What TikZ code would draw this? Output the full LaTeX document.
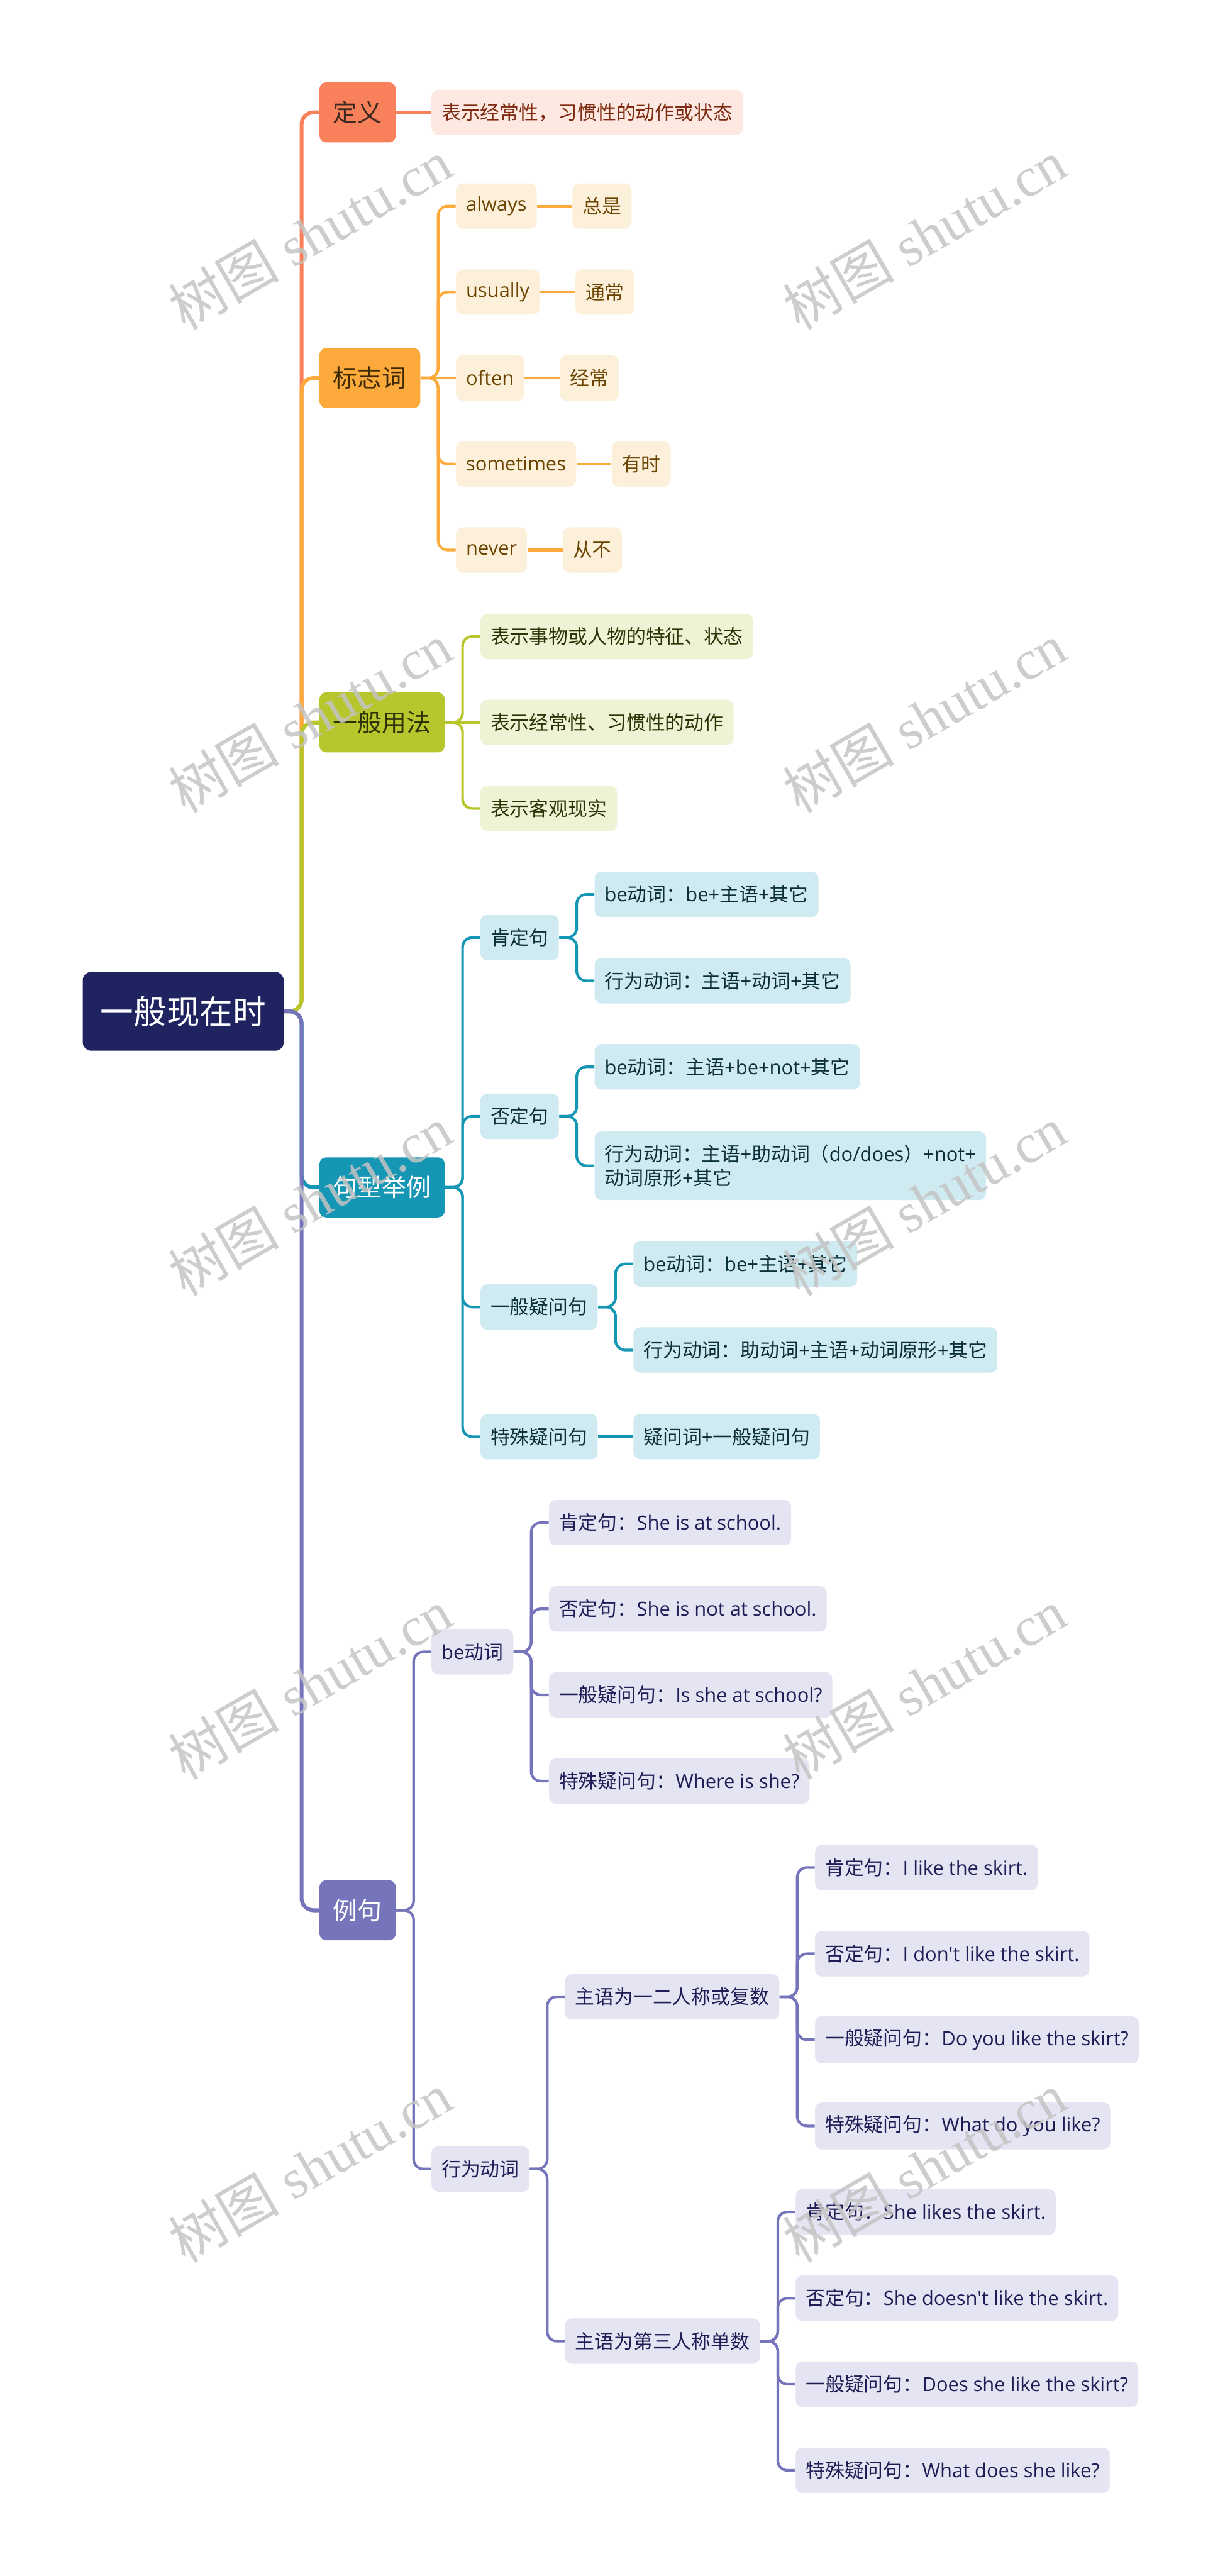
\documentclass[tikz,border=0pt]{standalone}
\usepackage{fontspec}
\setmainfont{Open Sans}[Ligatures=TeXOff]
\newfontfamily\cjkfont{Noto Sans CJK SC}
\newfontfamily\wmfont{Liberation Serif}
% Chinese runs are set in Noto Sans CJK, everything else in Open Sans
\XeTeXinterchartokenstate=1
\newXeTeXintercharclass\cjkclass
\newcount\cjkcode
\cjkcode="3000
\loop \XeTeXcharclass\cjkcode=\cjkclass \advance\cjkcode by 1 \ifnum\cjkcode<"3040 \repeat
\cjkcode="4E00
\loop \XeTeXcharclass\cjkcode=\cjkclass \advance\cjkcode by 1 \ifnum\cjkcode<"A000 \repeat
\cjkcode="FF00
\loop \XeTeXcharclass\cjkcode=\cjkclass \advance\cjkcode by 1 \ifnum\cjkcode<"FFF0 \repeat
\XeTeXinterchartoks 0 \cjkclass = {\begingroup\cjkfont}
\XeTeXinterchartoks 4095 \cjkclass = {\begingroup\cjkfont}
\XeTeXinterchartoks \cjkclass 0 = {\endgroup}
\XeTeXinterchartoks \cjkclass 4095 = {\endgroup}
\usepackage{tikz}
\usetikzlibrary{positioning}
\definecolor{rootc}{HTML}{1F2461}
\definecolor{defc}{HTML}{F8805A}
\definecolor{defl}{HTML}{FDE9E1}
\definecolor{defdark}{HTML}{7F2B12}
\definecolor{deftext}{HTML}{3A2A20}
\definecolor{sigc}{HTML}{FBAA3B}
\definecolor{sigl}{HTML}{FDF0DB}
\definecolor{sigdark}{HTML}{6B4400}
\definecolor{sigtext}{HTML}{3F2A05}
\definecolor{usec}{HTML}{B6C62C}
\definecolor{usel}{HTML}{EFF3D6}
\definecolor{usedark}{HTML}{2E3305}
\definecolor{patc}{HTML}{1496B4}
\definecolor{patl}{HTML}{CFEAF1}
\definecolor{patdark}{HTML}{0B2F38}
\definecolor{exc}{HTML}{7675BC}
\definecolor{exl}{HTML}{E5E4F2}
\definecolor{exdark}{HTML}{201D56}
\definecolor{wmgray}{HTML}{C4C4C4}
\tikzset{
  rootbox/.style={rectangle,rounded corners=5pt,fill=rootc,text=white,
    minimum height=1.64cm,inner xsep=0.37cm,
    font=\fontsize{19.6pt}{23pt}\selectfont},
  topbox/.style={rectangle,rounded corners=4pt,minimum height=1.25cm,
    inner xsep=0.285cm,font=\fontsize{14.5pt}{17pt}\selectfont},
  subbox/.style={rectangle,rounded corners=4pt,minimum height=0.945cm,
    inner xsep=0.21cm,inner ysep=0.27cm,align=left,
    font=\fontsize{11.5pt}{14.4pt}\selectfont},
  defbox/.style={topbox,fill=defc,text=deftext},
  defsub/.style={subbox,fill=defl,text=defdark},
  sigbox/.style={topbox,fill=sigc,text=sigtext},
  sigsub/.style={subbox,fill=sigl,text=sigdark},
  usebox/.style={topbox,fill=usec,text=usedark},
  usesub/.style={subbox,fill=usel,text=usedark},
  patbox/.style={topbox,fill=patc,text=white},
  patsub/.style={subbox,fill=patl,text=patdark},
  exbox/.style={topbox,fill=exc,text=white},
  exsub/.style={subbox,fill=exl,text=exdark},
  trunk/.style={line width=0.08cm,rounded corners=0.25cm},
  twig/.style={line width=0.055cm,rounded corners=0.2cm},
  wmark/.style={rotate=30,text=wmgray,text opacity=0.85,
    font=\wmfont\fontsize{33pt}{36pt}\selectfont},
}

\begin{document}
\begin{tikzpicture}
  \useasboundingbox (0,0) rectangle (25.6,-53.63);
  \node[rootbox] (root) at (3.815,-21.055) {一般现在时};

  % first level
  \node[defbox, right=7.3mm of root, yshift=18.715cm]  (def) {定义};
  \node[sigbox, right=7.3mm of root, yshift=13.185cm]  (sig) {标志词};
  \node[usebox, right=7.3mm of root, yshift=6.015cm]   (use) {一般用法};
  \node[patbox, right=7.3mm of root, yshift=-3.665cm]  (pat) {句型举例};
  \node[exbox,  right=7.3mm of root, yshift=-18.715cm] (ex)  {例句};

  % definition
  \node[defsub, right=7.3mm of def] (def1) {表示经常性，习惯性的动作或状态};

  % signal words
  \node[sigsub, right=7.3mm of sig, yshift=3.58cm]  (sig1) {always};
  \node[sigsub, right=7.3mm of sig, yshift=1.79cm]  (sig2) {usually};
  \node[sigsub, right=7.3mm of sig]                 (sig3) {often};
  \node[sigsub, right=7.3mm of sig, yshift=-1.79cm] (sig4) {sometimes};
  \node[sigsub, right=7.3mm of sig, yshift=-3.58cm] (sig5) {never};
  \node[sigsub, right=7.3mm of sig1] (sig1a) {总是};
  \node[sigsub, right=7.3mm of sig2] (sig2a) {通常};
  \node[sigsub, right=7.3mm of sig3] (sig3a) {经常};
  \node[sigsub, right=7.3mm of sig4] (sig4a) {有时};
  \node[sigsub, right=7.3mm of sig5] (sig5a) {从不};

  % usage
  \node[usesub, right=7.3mm of use, yshift=1.79cm]  (use1) {表示事物或人物的特征、状态};
  \node[usesub, right=7.3mm of use]                 (use2) {表示经常性、习惯性的动作};
  \node[usesub, right=7.3mm of use, yshift=-1.79cm] (use3) {表示客观现实};

  % sentence patterns
  \node[patsub, right=7.3mm of pat, yshift=5.20cm]  (patA) {肯定句};
  \node[patsub, right=7.3mm of pat, yshift=1.48cm]  (patB) {否定句};
  \node[patsub, right=7.3mm of pat, yshift=-2.49cm] (patC) {一般疑问句};
  \node[patsub, right=7.3mm of pat, yshift=-5.19cm] (patD) {特殊疑问句};
  \node[patsub, right=7.3mm of patA, yshift=0.90cm]   (patA1) {be动词：be+主语+其它};
  \node[patsub, right=7.3mm of patA, yshift=-0.90cm]  (patA2) {行为动词：主语+动词+其它};
  \node[patsub, right=7.3mm of patB, yshift=1.03cm]   (patB1) {be动词：主语+be+not+其它};
  \node[patsub, right=7.3mm of patB, yshift=-1.03cm]  (patB2) {行为动词：主语+助动词（do/does）+not+\\动词原形+其它};
  \node[patsub, right=7.3mm of patC, yshift=0.895cm]  (patC1) {be动词：be+主语+其它};
  \node[patsub, right=7.3mm of patC, yshift=-0.895cm] (patC2) {行为动词：助动词+主语+动词原形+其它};
  \node[patsub, right=7.3mm of patD]                  (patD1) {疑问词+一般疑问句};

  % examples
  \node[exsub, right=7.3mm of ex, yshift=5.38cm]   (exA) {be动词};
  \node[exsub, right=7.3mm of ex, yshift=-5.385cm] (exB) {行为动词};
  \node[exsub, right=7.3mm of exA, yshift=2.69cm]   (exA1) {肯定句：She is at school.};
  \node[exsub, right=7.3mm of exA, yshift=0.895cm]  (exA2) {否定句：She is not at school.};
  \node[exsub, right=7.3mm of exA, yshift=-0.895cm] (exA3) {一般疑问句：Is she at school?};
  \node[exsub, right=7.3mm of exA, yshift=-2.69cm]  (exA4) {特殊疑问句：Where is she?};
  \node[exsub, right=7.3mm of exB, yshift=3.585cm]  (exB1) {主语为一二人称或复数};
  \node[exsub, right=7.3mm of exB, yshift=-3.585cm] (exB2) {主语为第三人称单数};
  \node[exsub, right=7.3mm of exB1, yshift=2.69cm]   (exB11) {肯定句：I like the skirt.};
  \node[exsub, right=7.3mm of exB1, yshift=0.895cm]  (exB12) {否定句：I don't like the skirt.};
  \node[exsub, right=7.3mm of exB1, yshift=-0.895cm] (exB13) {一般疑问句：Do you like the skirt?};
  \node[exsub, right=7.3mm of exB1, yshift=-2.69cm]  (exB14) {特殊疑问句：What do you like?};
  \node[exsub, right=7.3mm of exB2, yshift=2.69cm]   (exB21) {肯定句：She likes the skirt.};
  \node[exsub, right=7.3mm of exB2, yshift=0.895cm]  (exB22) {否定句：She doesn't like the skirt.};
  \node[exsub, right=7.3mm of exB2, yshift=-0.895cm] (exB23) {一般疑问句：Does she like the skirt?};
  \node[exsub, right=7.3mm of exB2, yshift=-2.69cm]  (exB24) {特殊疑问句：What does she like?};

  % main branches
  \draw[trunk,draw=defc] (def.west) -| ([xshift=3.65mm]root.east) [sharp corners] -- (root.east);
  \draw[trunk,draw=sigc] (sig.west) -| ([xshift=3.65mm]root.east) [sharp corners] -- (root.east);
  \draw[trunk,draw=usec] (use.west) -| ([xshift=3.65mm]root.east) [sharp corners] -- (root.east);
  \draw[trunk,draw=patc] (pat.west) -| ([xshift=3.65mm]root.east) [sharp corners] -- (root.east);
  \draw[trunk,draw=exc]  (ex.west)  -| ([xshift=3.65mm]root.east) [sharp corners] -- (root.east);

  % second level links
  \draw[twig,draw=defc] (def.east) -- (def1.west);
  \draw[twig,draw=sigc] (sig1.west) -| ([xshift=3.65mm]sig.east) [sharp corners] -- (sig.east);
  \draw[twig,draw=sigc] (sig2.west) -| ([xshift=3.65mm]sig.east) [sharp corners] -- (sig.east);
  \draw[twig,draw=sigc] (sig3.west) -- (sig.east);
  \draw[twig,draw=sigc] (sig4.west) -| ([xshift=3.65mm]sig.east) [sharp corners] -- (sig.east);
  \draw[twig,draw=sigc] (sig5.west) -| ([xshift=3.65mm]sig.east) [sharp corners] -- (sig.east);
  \draw[twig,draw=sigc] (sig1) -- (sig1a);
  \draw[twig,draw=sigc] (sig2) -- (sig2a);
  \draw[twig,draw=sigc] (sig3) -- (sig3a);
  \draw[twig,draw=sigc] (sig4) -- (sig4a);
  \draw[twig,draw=sigc] (sig5) -- (sig5a);
  \draw[twig,draw=usec] (use1.west) -| ([xshift=3.65mm]use.east) [sharp corners] -- (use.east);
  \draw[twig,draw=usec] (use2.west) -- (use.east);
  \draw[twig,draw=usec] (use3.west) -| ([xshift=3.65mm]use.east) [sharp corners] -- (use.east);
  \draw[twig,draw=patc] (patA.west) -| ([xshift=3.65mm]pat.east) [sharp corners] -- (pat.east);
  \draw[twig,draw=patc] (patB.west) -| ([xshift=3.65mm]pat.east) [sharp corners] -- (pat.east);
  \draw[twig,draw=patc] (patC.west) -| ([xshift=3.65mm]pat.east) [sharp corners] -- (pat.east);
  \draw[twig,draw=patc] (patD.west) -| ([xshift=3.65mm]pat.east) [sharp corners] -- (pat.east);
  \draw[twig,draw=patc] (patA1.west) -| ([xshift=3.65mm]patA.east) [sharp corners] -- (patA.east);
  \draw[twig,draw=patc] (patA2.west) -| ([xshift=3.65mm]patA.east) [sharp corners] -- (patA.east);
  \draw[twig,draw=patc] (patB1.west) -| ([xshift=3.65mm]patB.east) [sharp corners] -- (patB.east);
  \draw[twig,draw=patc] (patB2.west) -| ([xshift=3.65mm]patB.east) [sharp corners] -- (patB.east);
  \draw[twig,draw=patc] (patC1.west) -| ([xshift=3.65mm]patC.east) [sharp corners] -- (patC.east);
  \draw[twig,draw=patc] (patC2.west) -| ([xshift=3.65mm]patC.east) [sharp corners] -- (patC.east);
  \draw[twig,draw=patc] (patD) -- (patD1);
  \draw[twig,draw=exc] (exA.west) -| ([xshift=3.65mm]ex.east) [sharp corners] -- (ex.east);
  \draw[twig,draw=exc] (exB.west) -| ([xshift=3.65mm]ex.east) [sharp corners] -- (ex.east);
  \draw[twig,draw=exc] (exA1.west) -| ([xshift=3.65mm]exA.east) [sharp corners] -- (exA.east);
  \draw[twig,draw=exc] (exA2.west) -| ([xshift=3.65mm]exA.east) [sharp corners] -- (exA.east);
  \draw[twig,draw=exc] (exA3.west) -| ([xshift=3.65mm]exA.east) [sharp corners] -- (exA.east);
  \draw[twig,draw=exc] (exA4.west) -| ([xshift=3.65mm]exA.east) [sharp corners] -- (exA.east);
  \draw[twig,draw=exc] (exB1.west) -| ([xshift=3.65mm]exB.east) [sharp corners] -- (exB.east);
  \draw[twig,draw=exc] (exB2.west) -| ([xshift=3.65mm]exB.east) [sharp corners] -- (exB.east);
  \draw[twig,draw=exc] (exB11.west) -| ([xshift=3.65mm]exB1.east) [sharp corners] -- (exB1.east);
  \draw[twig,draw=exc] (exB12.west) -| ([xshift=3.65mm]exB1.east) [sharp corners] -- (exB1.east);
  \draw[twig,draw=exc] (exB13.west) -| ([xshift=3.65mm]exB1.east) [sharp corners] -- (exB1.east);
  \draw[twig,draw=exc] (exB14.west) -| ([xshift=3.65mm]exB1.east) [sharp corners] -- (exB1.east);
  \draw[twig,draw=exc] (exB21.west) -| ([xshift=3.65mm]exB2.east) [sharp corners] -- (exB2.east);
  \draw[twig,draw=exc] (exB22.west) -| ([xshift=3.65mm]exB2.east) [sharp corners] -- (exB2.east);
  \draw[twig,draw=exc] (exB23.west) -| ([xshift=3.65mm]exB2.east) [sharp corners] -- (exB2.east);
  \draw[twig,draw=exc] (exB24.west) -| ([xshift=3.65mm]exB2.east) [sharp corners] -- (exB2.east);

  % watermark
  \node[wmark] (wm1)  at (6.45,-4.88)  {树图 shutu.cn};
  \node[wmark] (wm2)  at (19.25,-4.88) {树图 shutu.cn};
  \node[wmark] (wm3)  at (6.45,-14.94) {树图 shutu.cn};
  \node[wmark] (wm4)  at (19.25,-14.94) {树图 shutu.cn};
  \node[wmark] (wm5)  at (6.45,-25.00) {树图 shutu.cn};
  \node[wmark] (wm6)  at (19.25,-25.00) {树图 shutu.cn};
  \node[wmark] (wm7)  at (6.45,-35.06) {树图 shutu.cn};
  \node[wmark] (wm8)  at (19.25,-35.06) {树图 shutu.cn};
  \node[wmark] (wm9)  at (6.45,-45.12) {树图 shutu.cn};
  \node[wmark] (wm10) at (19.25,-45.12) {树图 shutu.cn};
\end{tikzpicture}
\end{document}
